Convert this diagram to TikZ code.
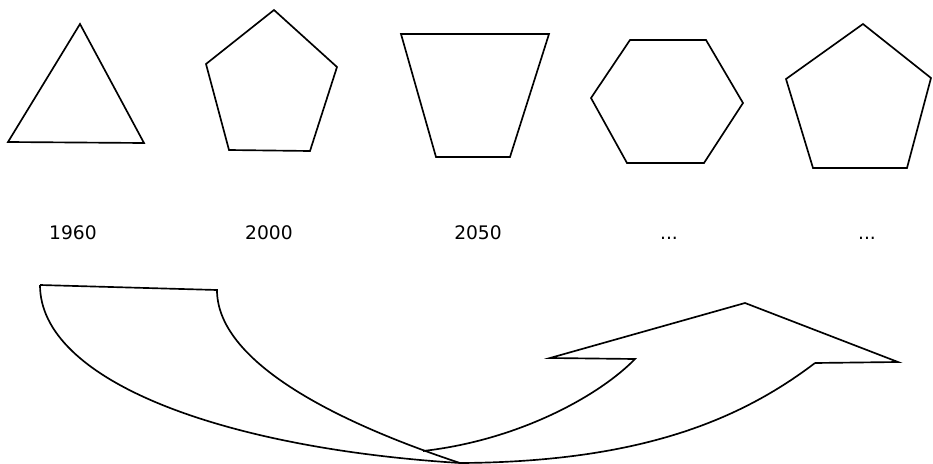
\documentclass[tikz,border=0pt]{standalone}
\usepackage{fontspec}
\setmainfont{DejaVu Sans}
\begin{document}
\begin{tikzpicture}[x=0.75pt,y=-0.75pt,
  shape line/.style={draw=black,line width=1.25pt,line join=miter},
  year/.style={anchor=base,inner sep=0pt,font=\fontsize{14}{16}\selectfont}]
\useasboundingbox (0,0) rectangle (933,464);
% shapes
\draw[shape line] (80,24) -- (144,143) -- (8,142) -- cycle;
\draw[shape line] (274,10) -- (337,67) -- (310,151) -- (229,150) -- (206,64) -- cycle;
\draw[shape line] (401,34) -- (549,34) -- (510,157) -- (436,157) -- cycle;
\draw[shape line] (630,40) -- (706,40) -- (743,103) -- (704,163) -- (627,163) -- (591,98) -- cycle;
\draw[shape line] (863,24) -- (931,78) -- (907,168) -- (813,168) -- (786,79) -- cycle;
% labels
\node[year] (y1960) at (73,239) {1960};
\node[year] (y2000) at (269,239) {2000};
\node[year] (y2050) at (478,239) {2050};
\node[year] (d1) at (669,239) {...};
\node[year] (d2) at (867,239) {...};
% curved arrow
\coordinate (tl) at (40,285);
\coordinate (tr) at (217,290);
\coordinate (bm) at (460,463);
\coordinate (hb) at (815,363);
\coordinate (tip2) at (898,362);
\coordinate (apex) at (745,303);
\coordinate (tip1) at (550,358);
\coordinate (hi) at (635,359);
\coordinate (xs) at (423,451);
\draw[shape line] (tl) -- (tr) .. controls (217,360) and (330,420) .. (bm);
\draw[shape line] (tl) .. controls (40,380) and (220,448) .. (bm)
  .. controls (640,462) and (740,420) .. (hb);
\draw[shape line] (hb) -- (tip2) -- (apex) -- (tip1) -- (hi)
  .. controls (600,395) and (520,440) .. (xs);
\end{tikzpicture}
\end{document}
